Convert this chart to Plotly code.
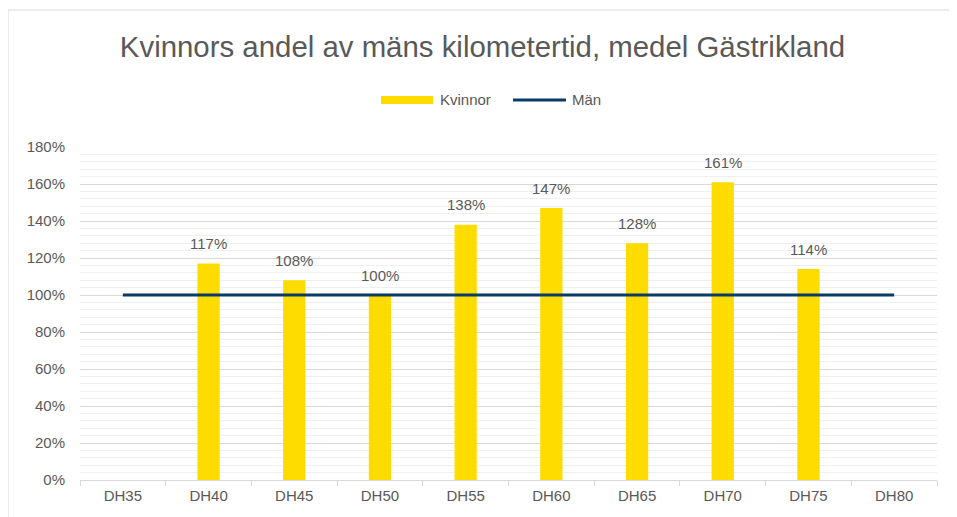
import plotly.graph_objects as go

categories = ["DH35", "DH40", "DH45", "DH50", "DH55", "DH60", "DH65", "DH70", "DH75", "DH80"]
kvinnor = [None, 1.17, 1.08, 1.00, 1.38, 1.47, 1.28, 1.61, 1.14, None]
man = [1.0] * 10
y_ticks = [0, 0.2, 0.4, 0.6, 0.8, 1.0, 1.2, 1.4, 1.6, 1.8]

# figure sits at page offset (8, 8) due to default body margin
W, H = 949, 509
L, R, T, B = 72, 20, 139, 37
pw = W - L - R
ph = H - T - B
FONT = "Liberation Sans, Arial"
GREY = "#595959"


def px(page_x):
    return (page_x - 8 - L) / pw


def py(page_y):
    return (H - B - (page_y - 8)) / ph


fig = go.Figure()
fig.add_trace(go.Bar(
    x=categories, y=kvinnor, name="Kvinnor",
    marker=dict(color="#FFDC00", line=dict(width=0)),
    width=0.26,
))
fig.add_trace(go.Scatter(
    x=categories, y=man, name="Män", mode="lines",
    line=dict(color="#0A3A66", width=3),
))

annotations = []
for c, v in zip(categories, kvinnor):
    if v is None:
        continue
    annotations.append(dict(x=c, y=v, xref="x", yref="y", text=f"{round(v * 100)}%",
                            showarrow=False, yshift=20, yanchor="middle",
                            font=dict(size=15, color=GREY, family=FONT)))

# manual legend
annotations.append(dict(x=px(438), y=py(100), xref="paper", yref="paper", text="Kvinnor",
                        showarrow=False, xanchor="left", yanchor="middle",
                        font=dict(size=15, color=GREY, family=FONT)))
annotations.append(dict(x=px(570), y=py(100), xref="paper", yref="paper", text="Män",
                        showarrow=False, xanchor="left", yanchor="middle",
                        font=dict(size=15, color=GREY, family=FONT)))

shapes = [
    dict(type="rect", xref="paper", yref="paper",
         x0=px(8), x1=px(965), y0=py(530), y1=py(10),
         line=dict(color="#D9D9D9", width=1), layer="below"),
    dict(type="rect", xref="paper", yref="paper",
         x0=px(381), x1=px(433), y0=py(104), y1=py(96),
         fillcolor="#FFDC00", line=dict(width=0)),
    dict(type="line", xref="paper", yref="paper",
         x0=px(513), x1=px(566), y0=py(100), y1=py(100),
         line=dict(color="#0A3A66", width=3)),
]

fig.update_layout(
    width=W, height=H,
    margin=dict(l=L, r=R, t=T, b=B),
    paper_bgcolor="white", plot_bgcolor="white",
    font=dict(family=FONT, color=GREY, size=15),
    title=dict(text="Kvinnors andel av mäns kilometertid, medel Gästrikland",
               x=0.5, xanchor="center", y=1 - 39 / H, yanchor="middle",
               font=dict(size=29.4, color=GREY, family=FONT)),
    showlegend=False,
    hovermode=False,
    annotations=annotations,
    shapes=shapes,
    xaxis=dict(showgrid=False, showline=True, linecolor="#D9D9D9", linewidth=1,
               ticks="outside", tickson="boundaries", ticklen=5, tickcolor="#D9D9D9",
               ticklabelstandoff=2,
               tickfont=dict(size=15, color=GREY, family=FONT), fixedrange=True),
    yaxis=dict(range=[0, 1.8], tickvals=y_ticks, tickformat=".0%",
               showgrid=True, gridcolor="#D9D9D9", gridwidth=1.3,
               minor=dict(dtick=0.04, showgrid=True, gridcolor="#EFEFEF", gridwidth=1),
               zeroline=False, showline=False, ticks="", ticklabelstandoff=14,
               tickfont=dict(size=15, color=GREY, family=FONT), fixedrange=True),
)

fig.write_html("out.html")
